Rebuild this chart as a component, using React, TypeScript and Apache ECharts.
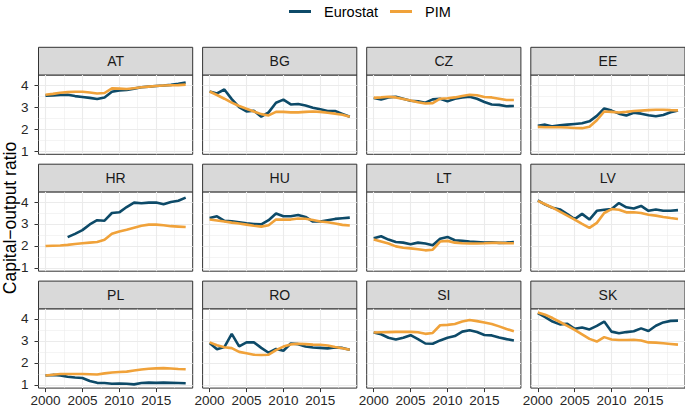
import React, { useEffect, useRef } from 'react';
import * as echarts from 'echarts';

const years = [2000, 2001, 2002, 2003, 2004, 2005, 2006, 2007, 2008, 2009, 2010, 2011, 2012, 2013, 2014, 2015, 2016, 2017, 2018, 2019];
const countries = ['AT', 'BG', 'CZ', 'EE', 'HR', 'HU', 'LT', 'LV', 'PL', 'RO', 'SI', 'SK'];
const seriesNames = ['Eurostat', 'PIM'];
const xTicks = [2000, 2005, 2010, 2015];
const yTicks = [1, 2, 3, 4];
const yTitle = 'Capital\u2212output ratio';

const atEurostat = [3.52, 3.53, 3.55, 3.56, 3.5, 3.46, 3.42, 3.37, 3.44, 3.7, 3.76, 3.78, 3.84, 3.9, 3.93, 3.96, 3.98, 4.01, 4.06, 4.12];
const atPim = [3.56, 3.6, 3.65, 3.68, 3.7, 3.7, 3.66, 3.62, 3.64, 3.85, 3.84, 3.82, 3.86, 3.9, 3.93, 3.96, 3.98, 3.99, 4.0, 4.02];
const bgEurostat = [3.71, 3.62, 3.8, 3.36, 3.0, 2.8, 2.83, 2.56, 2.76, 3.2, 3.34, 3.12, 3.14, 3.07, 2.97, 2.9, 2.82, 2.82, 2.69, 2.56];
const bgPim = [3.71, 3.55, 3.38, 3.2, 3.05, 2.92, 2.8, 2.68, 2.62, 2.78, 2.78, 2.76, 2.76, 2.78, 2.8, 2.78, 2.74, 2.7, 2.65, 2.56];
const czEurostat = [3.41, 3.35, 3.44, 3.47, 3.38, 3.29, 3.26, 3.2, 3.35, 3.38, 3.26, 3.38, 3.44, 3.47, 3.38, 3.23, 3.12, 3.1, 3.04, 3.05];
const czPim = [3.42, 3.44, 3.47, 3.44, 3.37, 3.3, 3.22, 3.16, 3.18, 3.38, 3.4, 3.44, 3.5, 3.56, 3.54, 3.46, 3.44, 3.38, 3.32, 3.32];
const eeEurostat = [2.15, 2.2, 2.12, 2.17, 2.2, 2.23, 2.26, 2.35, 2.6, 2.94, 2.84, 2.7, 2.62, 2.74, 2.7, 2.63, 2.58, 2.64, 2.76, 2.84];
const eePim = [2.1, 2.08, 2.08, 2.08, 2.07, 2.05, 2.04, 2.1, 2.4, 2.8, 2.78, 2.75, 2.78, 2.82, 2.84, 2.86, 2.88, 2.88, 2.86, 2.85];
const hrEurostat = [null, null, null, 2.4, 2.55, 2.72, 2.98, 3.17, 3.15, 3.5, 3.53, 3.77, 3.97, 3.94, 3.97, 3.98, 3.9, 4.0, 4.06, 4.2];
const hrPim = [2.0, 2.01, 2.02, 2.05, 2.09, 2.12, 2.15, 2.18, 2.28, 2.55, 2.66, 2.74, 2.83, 2.92, 2.97, 2.97, 2.94, 2.9, 2.88, 2.86];
const huEurostat = [3.27, 3.35, 3.14, 3.12, 3.08, 3.03, 3.0, 2.98, 3.17, 3.48, 3.35, 3.35, 3.41, 3.32, 3.11, 3.11, 3.17, 3.23, 3.26, 3.29];
const huPim = [3.2, 3.16, 3.11, 3.06, 3.02, 2.97, 2.92, 2.88, 2.94, 3.2, 3.2, 3.2, 3.25, 3.24, 3.18, 3.11, 3.08, 3.02, 2.96, 2.93];
const ltEurostat = [2.35, 2.44, 2.29, 2.18, 2.15, 2.08, 2.15, 2.11, 2.03, 2.33, 2.41, 2.26, 2.23, 2.2, 2.18, 2.15, 2.17, 2.14, 2.15, 2.18];
const ltPim = [2.29, 2.2, 2.11, 1.98, 1.92, 1.89, 1.85, 1.8, 1.83, 2.2, 2.23, 2.15, 2.12, 2.11, 2.11, 2.12, 2.14, 2.14, 2.12, 2.12];
const lvEurostat = [4.07, 3.88, 3.74, 3.66, 3.45, 3.22, 3.46, 3.2, 3.6, 3.65, 3.68, 3.95, 3.76, 3.7, 3.82, 3.6, 3.66, 3.6, 3.6, 3.63];
const lvPim = [4.05, 3.9, 3.74, 3.56, 3.38, 3.2, 3.0, 2.82, 3.05, 3.5, 3.68, 3.65, 3.53, 3.53, 3.5, 3.42, 3.38, 3.32, 3.27, 3.23];
const plEurostat = [1.42, 1.45, 1.43, 1.37, 1.33, 1.31, 1.17, 1.09, 1.08, 1.05, 1.06, 1.05, 1.02, 1.08, 1.1, 1.09, 1.1, 1.09, 1.08, 1.07];
const plPim = [1.42, 1.46, 1.49, 1.49, 1.49, 1.49, 1.48, 1.47, 1.52, 1.56, 1.58, 1.6, 1.65, 1.7, 1.73, 1.75, 1.76, 1.74, 1.72, 1.71];
const roEurostat = [2.9, 2.62, 2.72, 3.32, 2.75, 2.93, 2.93, 2.68, 2.46, 2.63, 2.55, 2.88, 2.85, 2.74, 2.7, 2.68, 2.66, 2.7, 2.68, 2.6];
const roPim = [2.93, 2.8, 2.71, 2.67, 2.5, 2.44, 2.37, 2.36, 2.37, 2.58, 2.74, 2.84, 2.87, 2.85, 2.83, 2.82, 2.79, 2.72, 2.66, 2.6];
const siEurostat = [3.38, 3.3, 3.14, 3.06, 3.14, 3.26, 3.08, 2.88, 2.87, 3.02, 3.14, 3.22, 3.42, 3.48, 3.4, 3.27, 3.25, 3.15, 3.08, 3.02];
const siPim = [3.38, 3.39, 3.4, 3.41, 3.41, 3.41, 3.39, 3.32, 3.36, 3.71, 3.73, 3.77, 3.88, 3.95, 3.9, 3.84, 3.77, 3.66, 3.54, 3.44];
const skEurostat = [4.26, 4.08, 3.88, 3.75, 3.78, 3.55, 3.61, 3.52, 3.68, 3.88, 3.42, 3.35, 3.4, 3.44, 3.57, 3.45, 3.69, 3.84, 3.91, 3.92];
const skPim = [4.29, 4.19, 4.04, 3.86, 3.68, 3.5, 3.3, 3.09, 2.97, 3.17, 3.06, 3.04, 3.04, 3.05, 3.02, 2.93, 2.92, 2.89, 2.86, 2.83];

const eurostatValues = [atEurostat, bgEurostat, czEurostat, eeEurostat, hrEurostat, huEurostat, ltEurostat, lvEurostat, plEurostat, roEurostat, siEurostat, skEurostat];
const pimValues = [atPim, bgPim, czPim, eePim, hrPim, huPim, ltPim, lvPim, plPim, roPim, siPim, skPim];

const COLORS = ['#0D4A68', '#F0A23A'];
const FONT = 'Liberation Sans, Arial, Helvetica, sans-serif';

function pairs(vals: (number | null)[]) {
  const out: [number, number][] = [];
  vals.forEach((v, i) => {
    if (v !== null && v !== undefined) out.push([years[i], v]);
  });
  return out;
}

export default function App() {
  const ref = useRef<HTMLDivElement>(null);
  useEffect(() => {
    const chart = echarts.init(ref.current!, null, { renderer: 'svg' });
    const grids: any[] = [];
    const xAxes: any[] = [];
    const yAxes: any[] = [];
    const series: any[] = [];
    const graphics: any[] = [];
    const panelW = 154.2;
    const stripH = 27.7;
    const panelH = 79.3;

    countries.forEach((c, k) => {
      const col = k % 4;
      const row = Math.floor(k / 4);
      const left = 38.5 + col * 164.1;
      const stripTop = 47.3 + row * 116.9;
      const top = stripTop + stripH;
      grids.push({
        left, top, width: panelW, height: panelH, show: true,
        backgroundColor: '#FFFFFF', borderColor: '#333333', borderWidth: 1,
        containLabel: false, outerBoundsMode: 'none',
      });
      xAxes.push({
        gridIndex: k, type: 'value', min: 1999.05, max: 2019.95,
        minInterval: 5, maxInterval: 5,
        axisLine: { show: false },
        axisTick: { show: row === 2, length: 4, customValues: xTicks, lineStyle: { color: '#333333', width: 1 } },
        axisLabel: {
          show: row === 2, customValues: xTicks, fontSize: 13.5, color: '#262626', margin: 5,
          fontFamily: FONT, formatter: (v: number) => String(v),
        },
        splitLine: { show: true, lineStyle: { color: '#EBEBEB', width: 1.1 } },
        minorTick: { show: false, splitNumber: 2 },
        minorSplitLine: { show: true, lineStyle: { color: '#EBEBEB', width: 0.55 } },
      });
      yAxes.push({
        gridIndex: k, type: 'value', min: 0.85, max: 4.46,
        minInterval: 1, maxInterval: 1,
        axisLine: { show: false },
        axisTick: { show: col === 0, length: 4, customValues: yTicks, lineStyle: { color: '#333333', width: 1 } },
        axisLabel: {
          show: col === 0, customValues: yTicks, fontSize: 13.5, color: '#262626', margin: 10,
          fontFamily: FONT, formatter: (v: number) => String(v),
        },
        splitLine: { show: true, lineStyle: { color: '#EBEBEB', width: 1.1 } },
        minorTick: { show: false, splitNumber: 2 },
        minorSplitLine: { show: true, lineStyle: { color: '#EBEBEB', width: 0.55 } },
      });
      [eurostatValues[k], pimValues[k]].forEach((vals, s) => {
        series.push({
          type: 'line', name: seriesNames[s], xAxisIndex: k, yAxisIndex: k,
          data: pairs(vals), showSymbol: false, symbol: 'none', silent: true,
          lineStyle: { color: COLORS[s], width: 2.6 }, itemStyle: { color: COLORS[s] },
          z: 2 + s,
        });
      });
      graphics.push({
        type: 'rect', silent: true,
        shape: { x: left, y: stripTop, width: panelW, height: stripH },
        style: { fill: '#D9D9D9', stroke: '#333333', lineWidth: 1 },
      });
      graphics.push({
        type: 'text', silent: true, x: left + panelW / 2, y: stripTop + stripH / 2,
        style: { text: c, fontSize: 14, fill: '#1A1A1A', fontFamily: FONT, align: 'center', verticalAlign: 'middle' },
      });
    });

    graphics.push({
      type: 'text', silent: true, x: 10, y: 218, rotation: Math.PI / 2,
      style: { text: yTitle, fontSize: 17.5, fill: '#000000', fontFamily: FONT, align: 'center', verticalAlign: 'middle' },
    });

    chart.setOption({
      animation: false,
      textStyle: { fontFamily: FONT },
      legend: {
        data: seriesNames, top: -1, left: 284, icon: 'rect', itemWidth: 22, itemHeight: 3,
        itemGap: 12, selectedMode: false,
        textStyle: { fontSize: 14.5, color: '#000000', fontFamily: FONT, padding: [0, 0, 0, 8] },
      },
      grid: grids,
      xAxis: xAxes,
      yAxis: yAxes,
      series,
      graphic: graphics,
    });
    return () => chart.dispose();
  }, []);
  return <div ref={ref} style={{ position: 'absolute', left: 0, top: 0, width: 685, height: 408 }} />;
}
